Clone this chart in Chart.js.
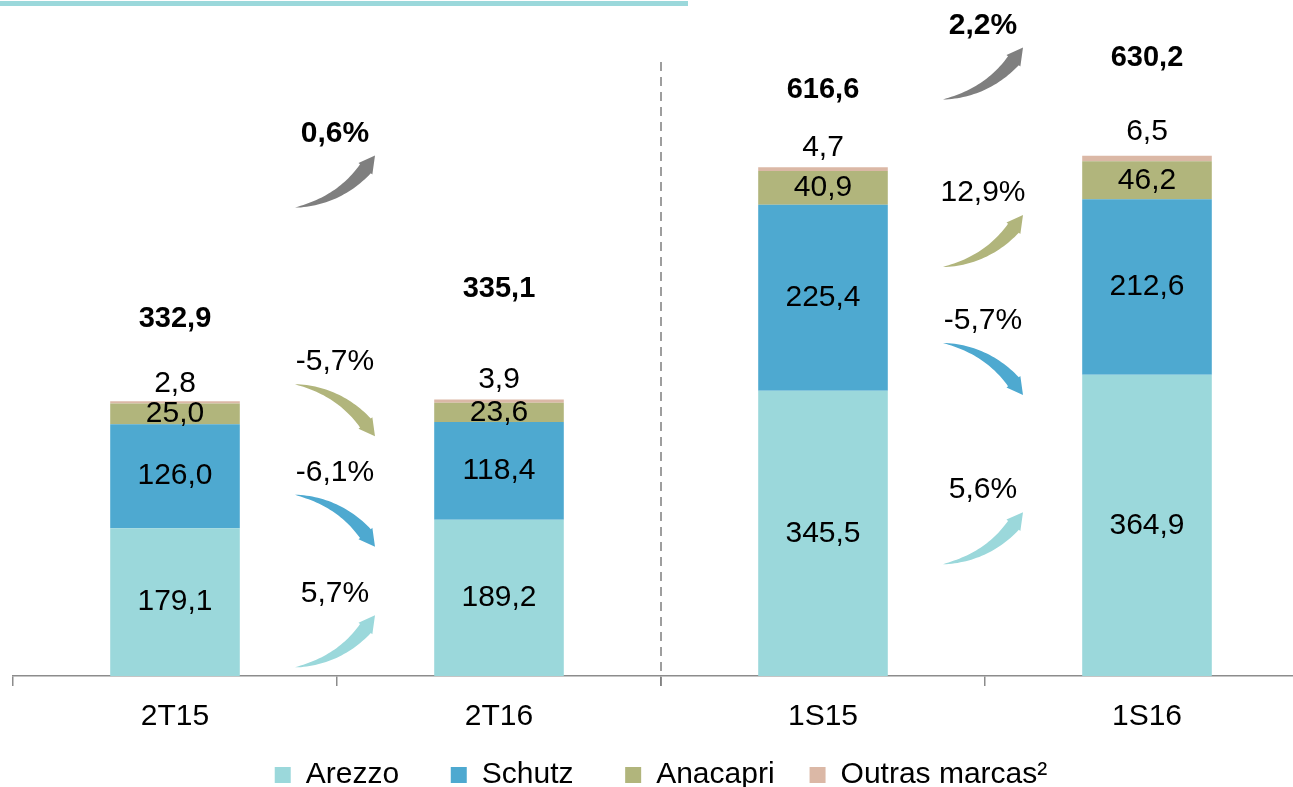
<!DOCTYPE html>
<html lang="pt-BR">
<head>
<meta charset="UTF-8" />
<title>Receita bruta por marca</title>
<script src="https://cdn.jsdelivr.net/npm/chart.js"></script>
<style>
  html, body { margin: 0; padding: 0; background: #fff; overflow: hidden; }
  .chart-box { position: absolute; left: 0; top: 0; width: 1310px; height: 800px; }
  .top-rule { position: absolute; left: 0; top: 1px; width: 688px; height: 5px; background: #9bd8db; }
</style>
</head>
<body>
<div class="chart-box"><canvas id="brandChart"></canvas></div>
<div class="top-rule"></div>

<script>
  // values (R$ milhões)
  const categories = ["2T15", "2T16", "1S15", "1S16"];
  const arezzo = [179.1, 189.2, 345.5, 364.9];
  const schutz = [126.0, 118.4, 225.4, 212.6];
  const anacapri = [25.0, 23.6, 40.9, 46.2];
  const outras = [2.8, 3.9, 4.7, 6.5];
  const totals = [332.9, 335.1, 616.6, 630.2];

  // growth between each pair of bars (2T15→2T16, 1S15→1S16)
  const growthTotal = ["0,6%", "2,2%"];
  const growthArezzo = ["5,7%", "5,6%"];
  const growthSchutz = ["-6,1%", "-5,7%"];
  const growthAnacapri = ["-5,7%", "12,9%"];

  const FONT = '"Liberation Sans", Arial, sans-serif';
  const GRAY = "#7f7f7f";
  const COLORS = {
    arezzo: "#9bd8db",
    schutz: "#4ea9d0",
    anacapri: "#b1b57c",
    outras: "#dbb8a6",
  };

  const fmt = (v) => v.toFixed(1).replace(".", ",");

  function drawArrow(ctx, x0, y0, x1, y1, color) {
    const cx = x0 + 0.65 * (x1 - x0);
    const cy = y0 + 0.15 * (y1 - y0);
    const pt = (t) => [
      (1 - t) * (1 - t) * x0 + 2 * (1 - t) * t * cx + t * t * x1,
      (1 - t) * (1 - t) * y0 + 2 * (1 - t) * t * cy + t * t * y1,
    ];
    const tan = (t) => {
      const dx = 2 * (1 - t) * (cx - x0) + 2 * t * (x1 - cx);
      const dy = 2 * (1 - t) * (cy - y0) + 2 * t * (y1 - cy);
      const l = Math.hypot(dx, dy);
      return [dx / l, dy / l];
    };
    const tH = 0.84, N = 30, wMax = 14, hw = 9;
    const left = [], right = [];
    for (let i = 0; i <= N; i++) {
      const t = (tH * i) / N;
      const [px, py] = pt(t);
      const [tx, ty] = tan(t);
      const w = (wMax / 2) * Math.pow(i / N, 0.8);
      left.push([px - ty * w, py + tx * w]);
      right.push([px + ty * w, py - tx * w]);
    }
    const [bx, by] = pt(tH);
    const [tx, ty] = tan(tH);
    ctx.beginPath();
    ctx.moveTo(left[0][0], left[0][1]);
    left.forEach((p) => ctx.lineTo(p[0], p[1]));
    ctx.lineTo(bx - ty * hw, by + tx * hw);
    ctx.lineTo(x1, y1);
    ctx.lineTo(bx + ty * hw, by - tx * hw);
    for (let i = right.length - 1; i >= 0; i--) ctx.lineTo(right[i][0], right[i][1]);
    ctx.closePath();
    ctx.fillStyle = color;
    ctx.fill();
  }

  const decorPlugin = {
    id: "decor",
    afterDatasetsDraw(chart, args, opts) {
      const ctx = chart.ctx;
      const x = chart.scales.x;
      const y = chart.scales.y;
      ctx.save();
      ctx.textAlign = "center";
      ctx.textBaseline = "middle";
      ctx.fillStyle = "#000";

      // values inside / above the segments
      chart.data.datasets.forEach((ds, di) => {
        const meta = chart.getDatasetMeta(di);
        meta.data.forEach((el, i) => {
          ctx.font = `30px ${FONT}`;
          if (di === 3) {
            ctx.fillText(fmt(ds.data[i]), el.x, el.y - opts.outrasLift[i]);
          } else {
            ctx.fillText(fmt(ds.data[i]), el.x, (el.y + el.base) / 2);
          }
        });
      });

      // totals
      const topMeta = chart.getDatasetMeta(3);
      ctx.font = `bold 29px ${FONT}`;
      totals.forEach((t, i) => {
        const el = topMeta.data[i];
        ctx.fillText(fmt(t), el.x, el.y - opts.totalLift[i]);
      });

      // growth arrows
      const groups = [
        { key: "total", labels: growthTotal, color: GRAY, bold: true },
        { key: "anacapri", labels: growthAnacapri, color: COLORS.anacapri },
        { key: "schutz", labels: growthSchutz, color: COLORS.schutz },
        { key: "arezzo", labels: growthArezzo, color: COLORS.arezzo },
      ];
      [[0, 1], [2, 3]].forEach(([a, b], p) => {
        const cx = (x.getPixelForValue(a) + x.getPixelForValue(b)) / 2 - 2;
        groups.forEach((g) => {
          const yc = y.getPixelForValue(opts.arrowLevels[g.key][p]);
          const up = !g.labels[p].startsWith("-");
          const h = 26;
          drawArrow(ctx, cx - 40, up ? yc + h : yc - h, cx + 40, up ? yc - h : yc + h, g.color);
          ctx.fillStyle = "#000";
          ctx.font = `${g.bold ? "bold " : ""}30px ${FONT}`;
          ctx.fillText(g.labels[p], cx, yc - 48);
        });
      });

      // dashed separator between quarter and semester
      const sx = (x.getPixelForValue(1) + x.getPixelForValue(2)) / 2;
      ctx.strokeStyle = GRAY;
      ctx.lineWidth = 1.5;
      ctx.setLineDash([9, 6]);
      ctx.beginPath();
      ctx.moveTo(sx, y.getPixelForValue(744));
      ctx.lineTo(sx, y.bottom + 13);
      ctx.stroke();
      ctx.restore();
    },
  };

  const legendGap = ["     ", "     ", "   ", ""];

  new Chart(document.getElementById("brandChart").getContext("2d"), {
    type: "bar",
    data: {
      labels: categories,
      datasets: [
        { label: "Arezzo", data: arezzo, backgroundColor: COLORS.arezzo },
        { label: "Schutz", data: schutz, backgroundColor: COLORS.schutz },
        { label: "Anacapri", data: anacapri, backgroundColor: COLORS.anacapri },
        { label: "Outras marcas²", data: outras, backgroundColor: COLORS.outras },
      ],
    },
    options: {
      responsive: true,
      maintainAspectRatio: false,
      animation: false,
      layout: { padding: { left: 13, right: 1, top: 0, bottom: 0 } },
      datasets: { bar: { barPercentage: 0.4, categoryPercentage: 1 } },
      scales: {
        x: {
          stacked: true,
          grid: {
            offset: true,
            drawOnChartArea: false,
            drawTicks: true,
            tickLength: 10,
            color: "#8c8c8c",
            lineWidth: 1.5,
          },
          border: { display: true, color: "#8c8c8c", width: 1.5 },
          ticks: { color: "#000", padding: 13, font: { family: FONT, size: 30 } },
          afterFit: (scale) => { scale.height = 74; },
        },
        y: { stacked: true, display: false, min: 0, max: 819 },
      },
      plugins: {
        tooltip: { enabled: false },
        legend: {
          position: "bottom",
          labels: {
            color: "#000",
            boxWidth: 16,
            boxHeight: 16,
            padding: 10,
            font: { family: FONT, size: 30 },
            generateLabels: (chart) =>
              Chart.defaults.plugins.legend.labels.generateLabels(chart).map((item, i) => {
                item.text = item.text + legendGap[i];
                return item;
              }),
          },
        },
        decor: {
          totalLift: [82, 110, 77, 98],
          outrasLift: [17, 20, 19, 24],
          arrowLevels: {
            total: [599, 730],
            anacapri: [322, 527],
            schutz: [188, 372],
            arezzo: [42, 167],
          },
        },
      },
    },
    plugins: [decorPlugin],
  });
</script>
</body>
</html>
